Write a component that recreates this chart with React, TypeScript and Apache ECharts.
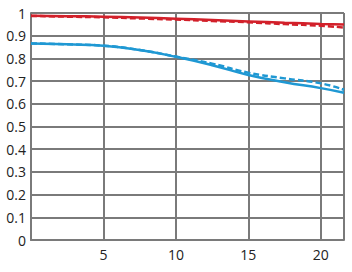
import React, { useEffect, useRef } from "react";
import * as echarts from "echarts";

const xValues = [0, 2.5, 5, 7.5, 10, 12.5, 15, 17.5, 20, 21.6];
const redSolid = [0.988, 0.986, 0.984, 0.98, 0.975, 0.969, 0.963, 0.957, 0.952, 0.949];
const redDashed = [0.987, 0.984, 0.981, 0.976, 0.971, 0.965, 0.959, 0.951, 0.944, 0.936];
const blueSolid = [0.866, 0.862, 0.856, 0.837, 0.807, 0.77, 0.727, 0.695, 0.669, 0.649];
const blueDashed = [0.866, 0.862, 0.856, 0.837, 0.808, 0.777, 0.737, 0.712, 0.69, 0.662];

const RED = "#d2202a";
const BLUE = "#1f98d3";

function pairs(ys: number[]) {
  return xValues.map((x, i) => [x, ys[i]]);
}

export default function App() {
  const ref = useRef<HTMLDivElement>(null);
  useEffect(() => {
    if (!ref.current) return;
    const chart = echarts.init(ref.current, undefined, { renderer: "svg" });
    const gridColor = "#7a7a7a";
    chart.setOption({
      animation: false,
      backgroundColor: "#ffffff",
      grid: { left: 31, right: 8, top: 13, bottom: 32, containLabel: false },
      xAxis: {
        type: "value",
        min: 0,
        max: 21.6,
        interval: 5,
        axisLine: { show: true, lineStyle: { color: gridColor, width: 2 } },
        axisTick: { show: false },
        splitLine: { show: true, lineStyle: { color: gridColor, width: 2 } },
        axisLabel: {
          color: "#222",
          fontFamily: "Open Sans",
          fontSize: 14,
          margin: 7,
          showMaxLabel: false,
          formatter: (v: number) => (v > 0 && v % 5 === 0 ? String(v) : ""),
        },
      },
      yAxis: {
        type: "value",
        min: 0,
        max: 1,
        interval: 0.1,
        axisLine: { show: true, lineStyle: { color: gridColor, width: 2 } },
        axisTick: { show: false },
        splitLine: { show: true, lineStyle: { color: gridColor, width: 2 } },
        axisLabel: {
          color: "#222",
          fontFamily: "Open Sans",
          fontSize: 14,
          margin: 5,
          formatter: (v: number) =>
            Math.abs(v - 1) < 1e-9 ? "1" : Math.abs(v) < 1e-9 ? "0" : v.toFixed(1),
        },
      },
      series: [
        {
          type: "line",
          data: pairs(redDashed),
          smooth: true,
          showSymbol: false,
          lineStyle: { color: RED, width: 2.5, type: [6, 3] },
        },
        {
          type: "line",
          data: pairs(redSolid),
          smooth: true,
          showSymbol: false,
          lineStyle: { color: RED, width: 2.5 },
        },
        {
          type: "line",
          data: pairs(blueDashed),
          smooth: true,
          showSymbol: false,
          lineStyle: { color: BLUE, width: 2.5, type: [6, 3] },
        },
        {
          type: "line",
          data: pairs(blueSolid),
          smooth: true,
          showSymbol: false,
          lineStyle: { color: BLUE, width: 2.5 },
        },
      ],
    });
    return () => chart.dispose();
  }, []);
  return (
    <div
      ref={ref}
      style={{ position: "absolute", left: 0, top: 0, width: 352, height: 272 }}
    />
  );
}
